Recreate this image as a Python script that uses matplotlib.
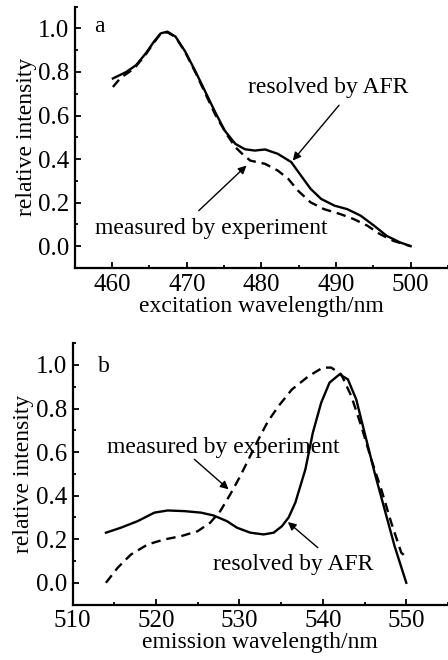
import matplotlib
matplotlib.use("Agg")
import matplotlib.pyplot as plt
from matplotlib.ticker import MultipleLocator, FormatStrFormatter

plt.rcParams['font.family'] = ['Liberation Serif', 'DejaVu Serif']
plt.rcParams['font.size'] = 17

# panel a: excitation spectra
exc_wl_afr = [460.1, 461.9, 463.2, 464.5, 465.6, 466.5, 467.4, 468.5, 469.8, 471.2,
              472.5, 473.8, 475.1, 476.5, 477.8, 479.1, 480.5, 482.2, 484.0, 485.3,
              486.6, 488.0, 489.8, 491.5, 493.3, 495.1, 496.8, 498.6, 500.0]
exc_afr = [0.770, 0.800, 0.831, 0.885, 0.939, 0.977, 0.985, 0.962, 0.893, 0.800,
           0.708, 0.616, 0.530, 0.470, 0.445, 0.439, 0.444, 0.424, 0.386, 0.324,
           0.263, 0.217, 0.186, 0.170, 0.140, 0.094, 0.047, 0.017, 0.0]
exc_wl_exp = [460.1, 461.2, 462.3, 463.2, 464.5, 465.6, 466.5, 467.4, 468.5, 469.8,
              471.2, 472.5, 473.8, 475.3, 476.5, 477.4, 478.5, 480.5, 482.2, 483.6,
              484.9, 486.6, 488.4, 490.6, 492.4, 494.2, 495.9, 497.7, 500.0]
exc_exp = [0.731, 0.775, 0.800, 0.826, 0.880, 0.935, 0.975, 0.982, 0.960, 0.890,
           0.795, 0.700, 0.605, 0.516, 0.455, 0.425, 0.393, 0.378, 0.347, 0.309,
           0.255, 0.201, 0.170, 0.147, 0.124, 0.094, 0.055, 0.024, 0.0]

# panel b: emission spectra
em_wl_afr = [514.0, 515.8, 517.8, 519.8, 521.4, 523.4, 525.4, 526.9, 528.5, 529.7,
             531.3, 532.9, 534.1, 535.1, 535.9, 536.7, 537.9, 538.8, 539.8, 540.8,
             542.0, 543.0, 544.0, 545.0, 546.2, 547.4, 548.6, 550.0]
em_afr = [0.230, 0.253, 0.283, 0.322, 0.332, 0.329, 0.322, 0.309, 0.283, 0.253,
          0.230, 0.222, 0.230, 0.260, 0.300, 0.368, 0.520, 0.689, 0.827, 0.919,
          0.957, 0.934, 0.842, 0.689, 0.506, 0.337, 0.168, 0.0]
em_wl_exp = [514.0, 515.4, 517.0, 519.0, 521.0, 523.0, 525.0, 526.5, 527.7, 528.9,
             530.1, 531.2, 532.3, 533.4, 534.7, 536.3, 538.3, 540.0, 541.0, 542.2,
             543.4, 544.6, 545.8, 547.0, 548.2, 549.4, 549.8]
em_exp = [0.0, 0.069, 0.130, 0.176, 0.199, 0.214, 0.237, 0.276, 0.329, 0.406,
          0.490, 0.575, 0.660, 0.740, 0.812, 0.888, 0.949, 0.988, 0.988, 0.957,
          0.858, 0.720, 0.567, 0.429, 0.276, 0.138, 0.125]

fig = plt.figure(figsize=(4.48, 6.6), dpi=100)
ax_a = fig.add_axes([0.167, 0.594, 0.833, 0.396])
ax_b = fig.add_axes([0.162, 0.084, 0.838, 0.396])


def style_axes(ax, xlim, xlabel):
    ax.set_xlim(*xlim)
    ax.set_ylim(-0.1, 1.1)
    for side in ['top', 'right']:
        ax.spines[side].set_visible(False)
    for side in ['left', 'bottom']:
        ax.spines[side].set_linewidth(1.6)
    ax.xaxis.set_major_locator(MultipleLocator(10))
    ax.xaxis.set_minor_locator(MultipleLocator(5))
    ax.yaxis.set_major_locator(MultipleLocator(0.2))
    ax.yaxis.set_minor_locator(MultipleLocator(0.1))
    ax.yaxis.set_major_formatter(FormatStrFormatter('%.1f'))
    ax.tick_params(which='both', direction='in', width=1.3)
    ax.tick_params(which='major', length=4, pad=4, labelsize=18)
    ax.tick_params(which='minor', length=2.5)
    ax.set_ylabel('relative intensity', labelpad=1)
    ax.set_xlabel(xlabel, labelpad=0)


arrow = dict(arrowstyle='-|>', color='black', lw=1.0, mutation_scale=12,
             shrinkA=0, shrinkB=0)
line_kw = dict(color='black', lw=1.7, solid_joinstyle='round', dash_joinstyle='round')

ax_a.plot(exc_wl_afr, exc_afr, **line_kw)
ax_a.plot(exc_wl_exp, exc_exp, ls=(0, (4, 2.5)), **line_kw)
style_axes(ax_a, (455, 505), 'excitation wavelength/nm')
ax_a.text(458.3, 1.01, 'a', ha='center', va='center')
ax_a.text(488.9, 0.728, 'resolved by AFR', ha='center', va='center')
ax_a.annotate('', xy=(484.2, 0.393), xytext=(490.4, 0.647), arrowprops=arrow)
ax_a.text(473.3, 0.083, 'measured by experiment', ha='center', va='center')
ax_a.annotate('', xy=(478.0, 0.37), xytext=(471.6, 0.163), arrowprops=arrow)

ax_b.plot(em_wl_afr, em_afr, **line_kw)
ax_b.plot(em_wl_exp, em_exp, ls=(0, (4, 2.5)), **line_kw)
style_axes(ax_b, (510, 555), 'emission wavelength/nm')
ax_b.text(513.8, 0.995, 'b', ha='center', va='center')
ax_b.text(528.1, 0.62, 'measured by experiment', ha='center', va='center')
ax_b.annotate('', xy=(528.7, 0.429), xytext=(524.6, 0.567), arrowprops=arrow)
ax_b.text(536.5, 0.084, 'resolved by AFR', ha='center', va='center')
ax_b.annotate('', xy=(535.8, 0.279), xytext=(539.4, 0.161), arrowprops=arrow)

fig.savefig('out.png', dpi=100)
